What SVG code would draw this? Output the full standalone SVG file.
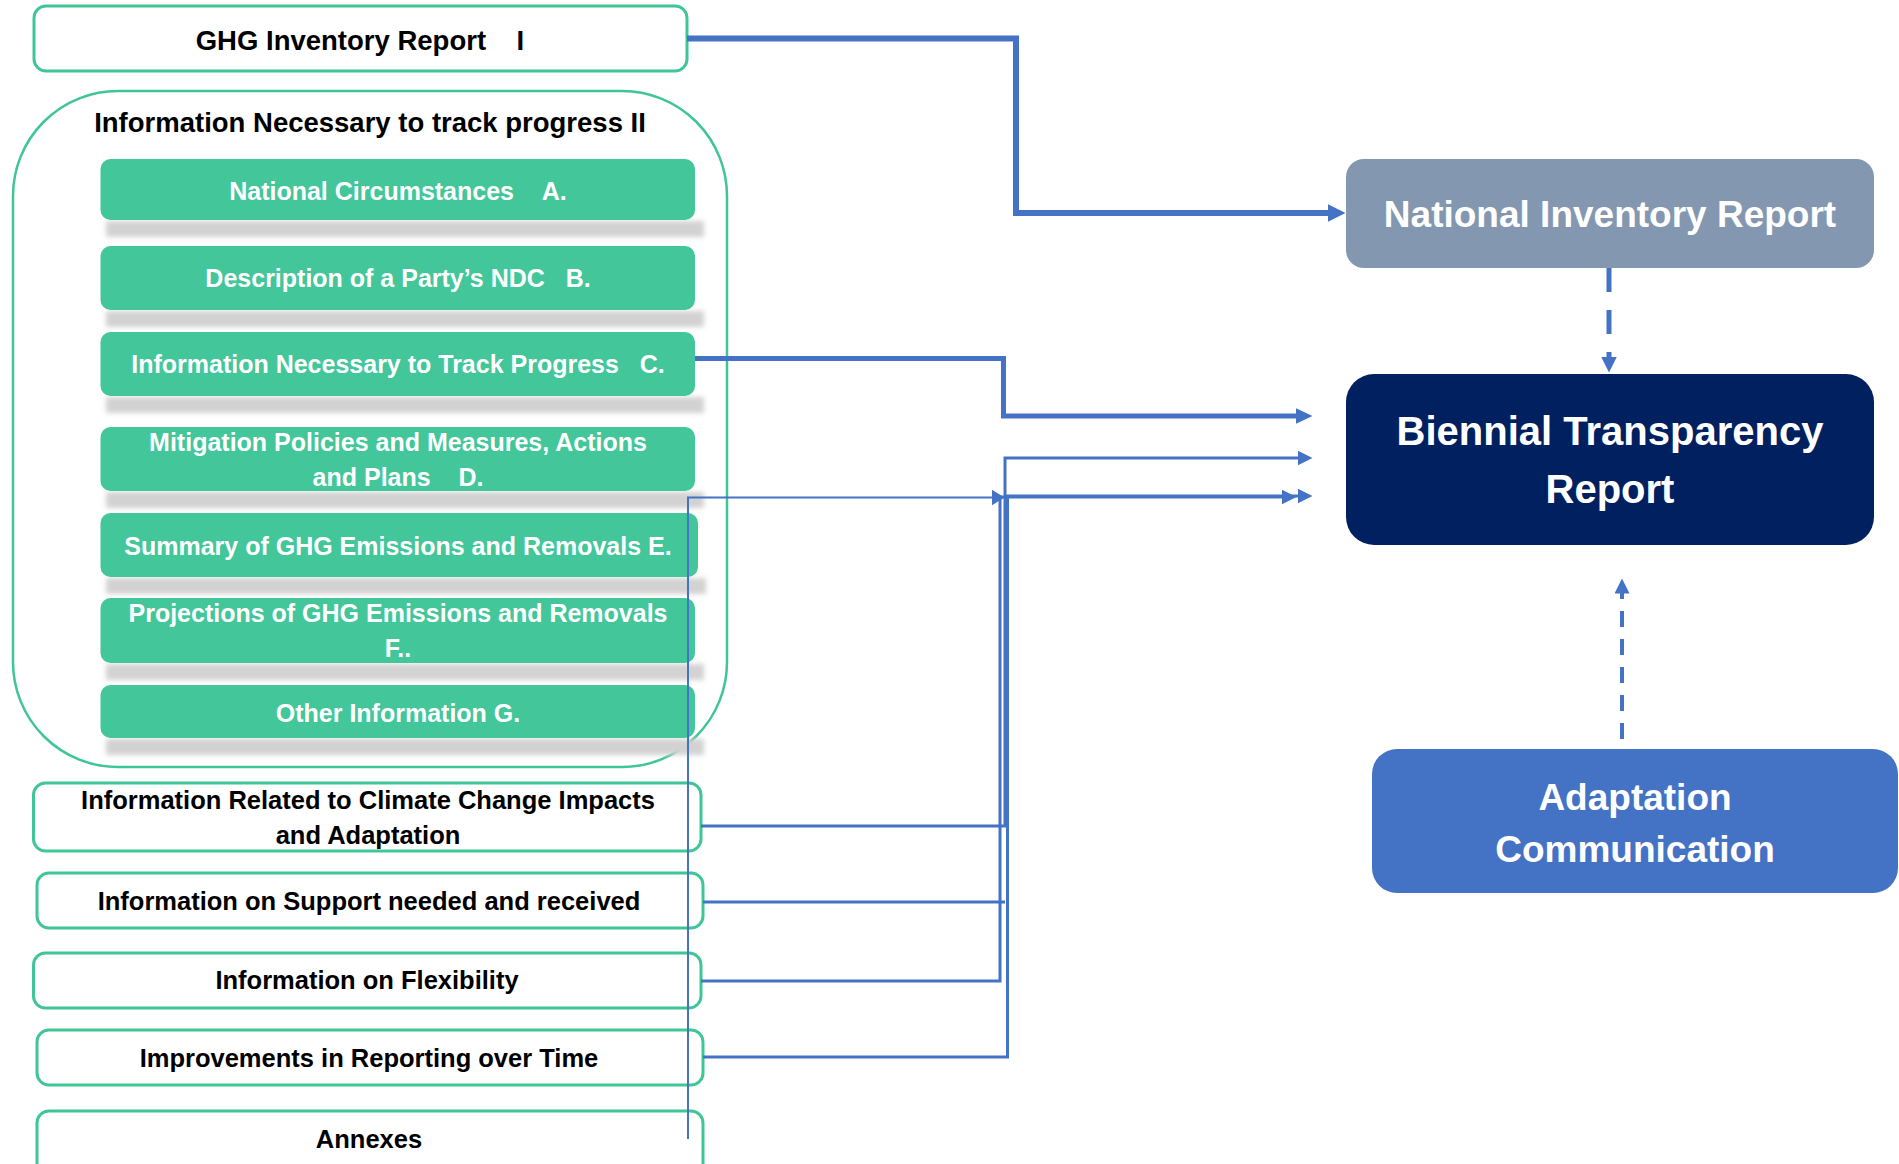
<svg xmlns="http://www.w3.org/2000/svg" width="1899" height="1164" viewBox="0 0 1899 1164">
<defs>
<style>
.t{font-family:"Liberation Sans",Arial,sans-serif;font-weight:bold;text-anchor:middle}
.tb{fill:#000;font-size:25.5px}
.tt{fill:#000;font-size:27.5px}
.tw{fill:#fff;font-size:25px}
.ob{fill:#fff;stroke:#3fc596;stroke-width:3}
.gb{fill:#43c69a}
.sh{fill:#d2d2d2;filter:url(#blur)}
.c{fill:none;stroke:#4472c4}
</style>
<filter id="blur" x="-10%" y="-100%" width="120%" height="300%"><feGaussianBlur stdDeviation="2.5"/></filter>
<marker id="aL" markerUnits="userSpaceOnUse" markerWidth="18" markerHeight="18" viewBox="0 0 18 18" refX="0.5" refY="9" orient="auto"><path d="M0,0L18,9L0,18z" fill="#4472c4"/></marker>
<marker id="aM" markerUnits="userSpaceOnUse" markerWidth="17" markerHeight="16" viewBox="0 0 17 16" refX="0.5" refY="8" orient="auto"><path d="M0,0L17,8L0,16z" fill="#4472c4"/></marker>
<marker id="aS" markerUnits="userSpaceOnUse" markerWidth="15" markerHeight="15" viewBox="0 0 15 15" refX="0.5" refY="7.5" orient="auto"><path d="M0,0L15,7.5L0,15z" fill="#4472c4"/></marker>
<marker id="aT" markerUnits="userSpaceOnUse" markerWidth="13" markerHeight="16" viewBox="0 0 13 16" refX="0.5" refY="8" orient="auto"><path d="M0,0L13,8L0,16z" fill="#4472c4"/></marker>
<marker id="aD" markerUnits="userSpaceOnUse" markerWidth="16" markerHeight="16" viewBox="0 0 16 16" refX="0.5" refY="8" orient="auto"><path d="M0,0L16,8L0,16z" fill="#4472c4"/></marker>
<marker id="aD2" markerUnits="userSpaceOnUse" markerWidth="15" markerHeight="15" viewBox="0 0 15 15" refX="0.5" refY="7.5" orient="auto"><path d="M0,0L15,7.5L0,15z" fill="#4472c4"/></marker>
</defs>
<rect width="1899" height="1164" fill="#fff"/>

<g id="ghg-inventory-report">
<rect x="34" y="6" width="653" height="65" rx="12" class="ob" stroke-width="2.5"/>
<text x="360" y="50" class="t tt">GHG Inventory Report&#160;&#160;&#160;&#160;I</text>
</g>

<g id="info-necessary-container">
<rect x="13" y="91" width="714" height="676" rx="105" fill="none" stroke="#3fc596" stroke-width="2.5"/>
<text x="370" y="132" class="t tt">Information Necessary to track progress II</text>
</g>

<g id="national-circumstances">
<rect x="106" y="221" width="598" height="16" class="sh"/>
<rect x="100.5" y="159" width="594.5" height="61" rx="10" class="gb"/>
<text x="398" y="200" class="t tw">National Circumstances&#160;&#160;&#160;&#160;A.</text>
</g>

<g id="description-ndc">
<rect x="106" y="311" width="598" height="16" class="sh"/>
<rect x="100.5" y="246" width="594.5" height="64" rx="10" class="gb"/>
<text x="398" y="287" class="t tw">Description of a Party’s NDC&#160;&#160;&#160;B.</text>
</g>

<g id="info-track-progress">
<rect x="106" y="397" width="598" height="16" class="sh"/>
<rect x="100.5" y="332" width="594.5" height="64" rx="10" class="gb"/>
<text x="398" y="373" class="t tw">Information Necessary to Track Progress&#160;&#160;&#160;C.</text>
</g>

<g id="mitigation-policies">
<rect x="106" y="492" width="598" height="16" class="sh"/>
<rect x="100.5" y="427" width="594.5" height="64" rx="10" class="gb"/>
<text x="398" y="451" class="t tw">Mitigation Policies and Measures, Actions</text>
<text x="398" y="486" class="t tw">and Plans&#160;&#160;&#160;&#160;D.</text>
</g>

<g id="summary-ghg">
<rect x="106" y="578" width="600" height="16" class="sh"/>
<rect x="100.5" y="513" width="597.5" height="64" rx="10" class="gb"/>
<text x="398" y="555" class="t tw">Summary of GHG Emissions and Removals E.</text>
</g>

<g id="projections-ghg">
<rect x="106" y="664" width="598" height="16" class="sh"/>
<rect x="100.5" y="598" width="594.5" height="65" rx="10" class="gb"/>
<text x="398" y="622" class="t tw">Projections of GHG Emissions and Removals</text>
<text x="398" y="657" class="t tw">F..</text>
</g>

<g id="other-information">
<rect x="106" y="739" width="598" height="16" class="sh"/>
<rect x="100.5" y="685" width="594.5" height="53" rx="10" class="gb"/>
<text x="398" y="722" class="t tw">Other Information G.</text>
</g>

<g id="climate-impacts">
<rect x="33.5" y="783" width="667.5" height="68" rx="12" class="ob"/>
<text x="368" y="809" class="t tb">Information Related to Climate Change Impacts</text>
<text x="368" y="844" class="t tb">and Adaptation</text>
</g>

<g id="support">
<rect x="37" y="873" width="666" height="55" rx="12" class="ob"/>
<text x="369" y="910" class="t tb">Information on Support needed and received</text>
</g>

<g id="flexibility">
<rect x="33.5" y="953" width="667.5" height="55" rx="12" class="ob"/>
<text x="367" y="989" class="t tb">Information on Flexibility</text>
</g>

<g id="improvements">
<rect x="37" y="1030" width="666" height="55" rx="12" class="ob"/>
<text x="369" y="1067" class="t tb">Improvements in Reporting over Time</text>
</g>

<g id="annexes">
<rect x="37" y="1111" width="666" height="70" rx="12" class="ob"/>
<text x="369" y="1148" class="t tb">Annexes</text>
</g>

<g id="national-inventory-report">
<rect x="1346" y="159" width="528" height="109" rx="18" fill="#8497b0"/>
<text x="1610" y="227" class="t" fill="#fff" font-size="37">National Inventory Report</text>
</g>

<g id="biennial-transparency-report">
<rect x="1346" y="374" width="528" height="171" rx="28" fill="#002060"/>
<text x="1610" y="445" class="t" fill="#fff" font-size="40">Biennial Transparency</text>
<text x="1610" y="503" class="t" fill="#fff" font-size="40">Report</text>
</g>

<g id="adaptation-communication">
<rect x="1372" y="749" width="526" height="144" rx="25" fill="#4472c4"/>
<text x="1635" y="810" class="t" fill="#fff" font-size="37">Adaptation</text>
<text x="1635" y="862" class="t" fill="#fff" font-size="37">Communication</text>
</g>

<g id="connectors">
<path class="c" stroke-width="6" d="M687,38.5H1016V213H1328" marker-end="url(#aL)"/>
<path class="c" stroke-width="5" d="M695,358.5H1003.5V416H1296" marker-end="url(#aM)"/>
<path class="c" stroke-width="3" d="M701,826H1005V458H1298" marker-end="url(#aS)"/>
<path class="c" stroke-width="3" d="M703,902H1005"/>
<path class="c" stroke-width="3" d="M701,981H1000V497H1282" marker-end="url(#aS)"/>
<path class="c" stroke-width="3" d="M703,1057H1007.5V496H1298" marker-end="url(#aS)"/>
<path class="c" stroke-width="2" d="M688,1139V497.5H992" marker-end="url(#aT)"/>
<path class="c" stroke-width="5" stroke-dasharray="24 18" d="M1609,268V357" marker-end="url(#aD)"/>
<path class="c" stroke-width="4" stroke-dasharray="16 12" d="M1622,739V593" marker-end="url(#aD2)"/>
</g>
</svg>
